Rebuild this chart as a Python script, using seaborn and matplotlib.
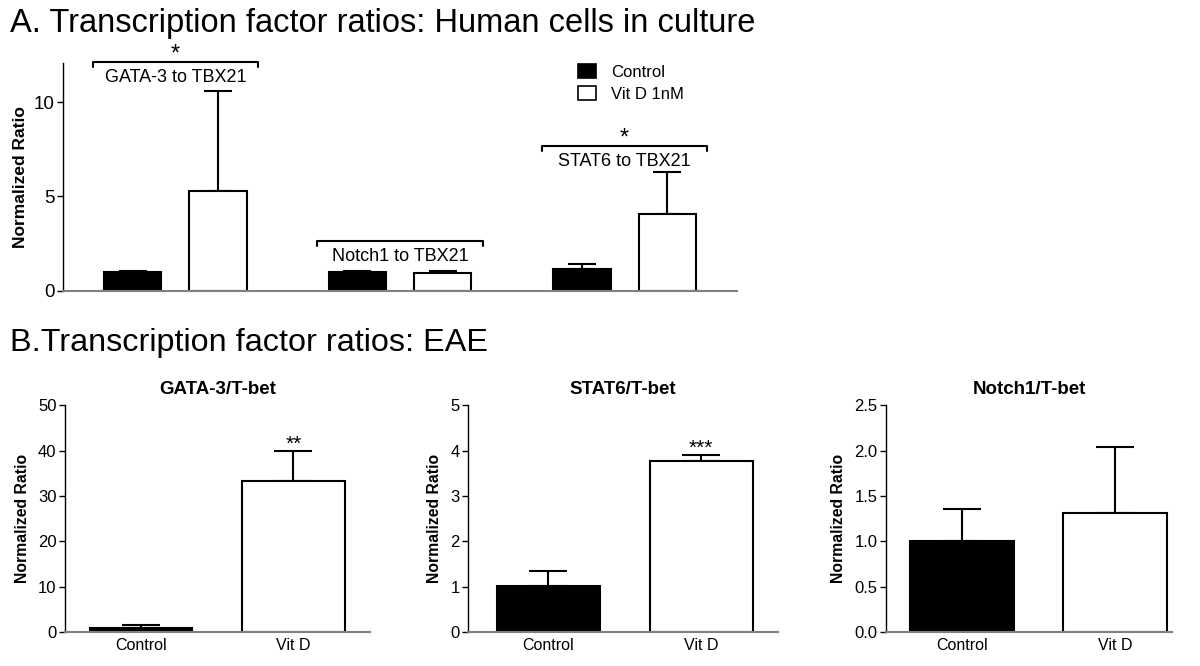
import pandas as pd
import matplotlib.pyplot as plt
import seaborn as sns
from matplotlib.patches import Patch

sns.set_theme(style="ticks")
plt.rcParams['font.family'] = ['Liberation Sans', 'DejaVu Sans']
for key in ['text.color', 'axes.labelcolor', 'xtick.color', 'ytick.color', 'axes.edgecolor']:
    plt.rcParams[key] = 'black'

# Panel A data: human cells in culture
pairs_a = ['GATA-3 to TBX21', 'Notch1 to TBX21', 'STAT6 to TBX21']
control_a = [1.0, 1.0, 1.13]
control_a_err = [0.05, 0.05, 0.30]
vitd_a = [5.29, 0.92, 4.09]
vitd_a_err = [5.31, 0.13, 2.21]
stars_a = ['*', '', '*']
treat_a = ['Control', 'Vit D 1nM']

# Panel B data: EAE
titles_b = ['GATA-3/T-bet', 'STAT6/T-bet', 'Notch1/T-bet']
groups_b = ['Control', 'Vit D']
means_b = [[1.0, 33.3], [1.01, 3.77], [1.0, 1.31]]
errs_b = [[0.6, 6.6], [0.33, 0.13], [0.36, 0.73]]
stars_b = ['**', '***', '']
ylims_b = [50, 5, 2.5]
ticks_b = [[0, 10, 20, 30, 40, 50], [0, 1, 2, 3, 4, 5], [0, 0.5, 1.0, 1.5, 2.0, 2.5]]

colors = {'Control': 'black', 'Vit D 1nM': 'white', 'Vit D': 'white'}

fig = plt.figure(figsize=(12, 6.66), dpi=100)


def add_errorbars(ax, bars, errs, capsize):
    for bar, e in zip(bars, errs):
        xc = bar.get_x() + bar.get_width() / 2
        h = bar.get_height()
        ax.errorbar(xc, h, yerr=[[0], [e]], fmt='none', ecolor='black',
                    elinewidth=1.5, capsize=capsize, capthick=1.5, zorder=1)


# ---- Panel A ----
df_a = pd.DataFrame({
    'pair': pairs_a * 2,
    'treatment': ['Control'] * 3 + ['Vit D 1nM'] * 3,
    'ratio': control_a + vitd_a,
})
ax = fig.add_axes([0.0525, 0.5635, 0.5617, 0.3419])
sns.barplot(data=df_a, x='pair', y='ratio', hue='treatment', palette=colors,
            edgecolor='black', linewidth=1.5, width=0.76, gap=0.33,
            errorbar=None, ax=ax, zorder=2)
bars = sorted(ax.patches, key=lambda p: p.get_x())
bars = [b for b in bars if b.get_height() > 0]
add_errorbars(ax, bars, [v for pair in zip(control_a_err, vitd_a_err) for v in pair], 10)

ax.set_xlim(-0.5, 2.5)
ax.set_ylim(0, 12.07)
ax.set_yticks([0, 5, 10])
ax.set_xticks([])
ax.set_xlabel('')
ax.set_ylabel('Normalized Ratio', fontsize=12.5, fontweight='bold', labelpad=4)
ax.tick_params(axis='y', labelsize=13.5, length=4, width=1, direction='out', pad=2)
sns.despine(ax=ax)
ax.spines['left'].set_linewidth(1)
ax.spines['bottom'].set_color('#808080')
ax.spines['bottom'].set_linewidth(1.5)

# brackets with labels above each pair
bracket_y = [12.14, 2.65, 7.68]
for i, (lab, by, st) in enumerate(zip(pairs_a, bracket_y, stars_a)):
    ax.plot([i - 0.368, i - 0.368, i + 0.368, i + 0.368],
            [by - 0.26, by, by, by - 0.26], color='black', lw=1.5, clip_on=False)
    ax.text(i, by - 0.85, lab, ha='center', va='center', fontsize=13)
    if st:
        ax.text(i, by - 0.2, st, ha='center', va='bottom', fontsize=17)

ax.legend(handles=[Patch(facecolor=colors[t], edgecolor='black', linewidth=1.2, label=t)
                   for t in treat_a],
          loc='upper left', bbox_to_anchor=(0.742, 1.06), frameon=False,
          fontsize=12, handlelength=1.1, handleheight=0.9, handletextpad=0.9,
          labelspacing=0.35)

fig.text(0.008, 0.952, 'A. Transcription factor ratios: Human cells in culture',
         fontsize=23.5, family=['Liberation Sans Narrow', 'Liberation Sans', 'DejaVu Sans'],
         va='baseline')

# ---- Panel B ----
lefts_b = [0.054, 0.39, 0.738]
widths_b = [0.254, 0.258, 0.239]
xlims_b = [(-0.5, 1.5), (-0.526, 1.5), (-0.5, 1.376)]
for k in range(3):
    axb = fig.add_axes([lefts_b[k], 0.0506, widths_b[k], 0.341])
    df_b = pd.DataFrame({'group': groups_b, 'ratio': means_b[k]})
    sns.barplot(data=df_b, x='group', y='ratio', hue='group', palette=colors,
                edgecolor='black', linewidth=1.5, width=0.675, errorbar=None,
                legend=False, ax=axb, zorder=2)
    bars_b = sorted(axb.patches, key=lambda p: p.get_x())
    add_errorbars(axb, bars_b, errs_b[k], 14)
    if stars_b[k]:
        b = bars_b[1]
        axb.annotate(stars_b[k], (b.get_x() + b.get_width() / 2, means_b[k][1] + errs_b[k][1]),
                     xytext=(0, -2), textcoords='offset points',
                     ha='center', va='bottom', fontsize=15)
    axb.set_xlim(*xlims_b[k])
    axb.set_ylim(0, ylims_b[k])
    axb.set_yticks(ticks_b[k])
    axb.set_title(titles_b[k], fontsize=13.5, fontweight='bold', pad=8)
    axb.set_xlabel('')
    axb.set_ylabel('Normalized Ratio', fontsize=11.3, fontweight='bold', labelpad=6)
    axb.tick_params(axis='y', labelsize=12, length=4, width=1, direction='out', pad=2)
    axb.tick_params(axis='x', labelsize=11.5, length=0, pad=4)
    sns.despine(ax=axb)
    axb.spines['left'].set_linewidth(1)
    axb.spines['bottom'].set_color('#808080')
    axb.spines['bottom'].set_linewidth(1.5)

fig.text(0.008, 0.473, 'B.Transcription factor ratios: EAE', fontsize=23.3, va='baseline')

plt.savefig('out.png', dpi=100)
plt.close()
